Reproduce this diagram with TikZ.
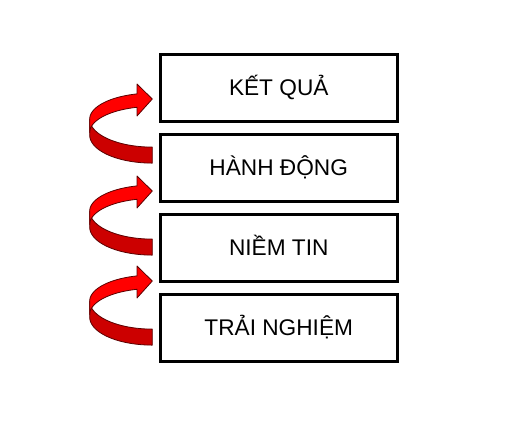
\documentclass[tikz,border=0pt]{standalone}
\usepackage{fontspec}
\setmainfont{Liberation Sans}
\definecolor{arrowfront}{RGB}{255,0,0}
\definecolor{arrowback}{RGB}{204,0,0}
\definecolor{arrowline}{RGB}{90,0,0}
\begin{document}
\begin{tikzpicture}[x=0.75pt,y=-0.75pt,
  box/.style={draw=black, line width=2.25pt, minimum width=178.1pt, minimum height=50.25pt,
    inner sep=0pt, text height=11.5pt, text depth=0pt, font=\fontsize{17}{20}\selectfont},
  frontface/.style={fill=arrowfront, draw=arrowline, line width=0.6pt, line join=round},
  backface/.style={fill=arrowback, draw=arrowline, line width=0.6pt, line join=round}]
\useasboundingbox (0,0) rectangle (517,426);
\node[box] (b1) at (278.75,87.5) {KẾT QUẢ};
\node[box] (b2) at (278.75,167.5) {HÀNH ĐỘNG};
\node[box] (b3) at (278.75,247.5) {NIỀM TIN};
\node[box] (b4) at (278.75,327.5) {TRẢI NGHIỆM};
\coordinate (a1) at (0,0);
\coordinate (a2) at (0,92);
\coordinate (a3) at (0,182);
\foreach \a in {a1,a2,a3}{
  \begin{scope}[shift={(\a)}]
    \path[backface] (89.7,119.1)
      -- plot[domain=180:90, samples=40] ({152.3+62.6*cos(\x)},{119.1+28*sin(\x)})
      -- (152.3,163.1)
      -- plot[domain=90:180, samples=40] ({152.3+62.6*cos(\x)},{135.1+28*sin(\x)})
      -- cycle;
    \path[frontface] (89.7,119.1)
      -- plot[domain=180:255.9, samples=40] ({152.3+62.6*cos(\x)},{119.1+26*sin(\x)})
      -- (137,84) -- (152.3,99) -- (137,116)
      -- plot[domain=255.9:180, samples=40] ({152.3+62.6*cos(\x)},{132.5+26*sin(\x)})
      -- cycle;
  \end{scope}
}
\end{tikzpicture}
\end{document}
